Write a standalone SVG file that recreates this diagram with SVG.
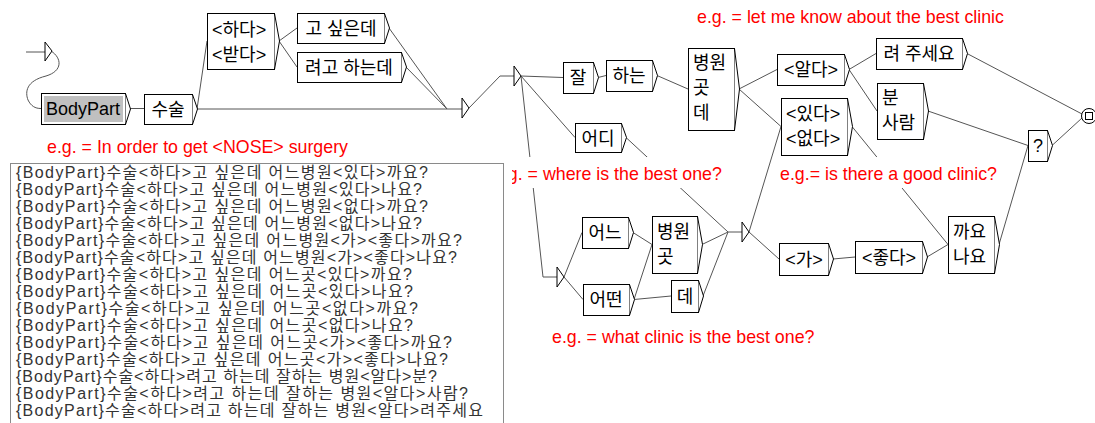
<svg xmlns="http://www.w3.org/2000/svg" width="1095" height="423" viewBox="0 0 1095 423">
<style>
.b{fill:#fff;stroke:#000;stroke-width:1}
.tri{fill:#fff;stroke:#000;stroke-width:1}
.t{font-family:"Liberation Sans","Noto Sans CJK KR",sans-serif;font-size:18px;fill:#000}
.m{text-anchor:middle}
.c{stroke:#555;fill:none;stroke-width:1}
.lbl{font-family:"Liberation Sans",Arial,sans-serif;font-size:17.8px;fill:#f00}
.bg{fill:#fff}
.tx{font-family:"Liberation Sans","Noto Sans CJK KR",sans-serif;font-size:16px;fill:#333}
</style>
<rect width="1095" height="423" fill="#fff"/>
<g id="connectors">
<path class="c" d="M26,52H45"/>
<path class="c" d="M51,51C62,58 63,71 46,76C26,81 25,92 28,100C31,106 35,108.5 41,108.5"/>
<path class="c" d="M130,108.5H144"/>
<path class="c" d="M197,109H462"/>
<path class="c" d="M197,109L207,41"/>
<path class="c" d="M279,41L297,28"/>
<path class="c" d="M279,41L297,67"/>
<path class="c" d="M389,28L447,109"/>
<path class="c" d="M406,67L447,109"/>
<path class="c" d="M469,108L500,76H514"/>
<path class="c" d="M521,76L563,77.5"/>
<path class="c" d="M598,77.5L606,75.5"/>
<path class="c" d="M657,75.5L688,89"/>
<path class="c" d="M521,76L575,137.5"/>
<path class="c" d="M521,76L543,277H557"/>
<path class="c" d="M564,277L582,232.5"/>
<path class="c" d="M564,277L583,299.5"/>
<path class="c" d="M633,232.5L652,244.5"/>
<path class="c" d="M634,299.5L652,244.5"/>
<path class="c" d="M634,299.5L671,296"/>
<path class="c" d="M702,244.5L728,232H742"/>
<path class="c" d="M703,296L728,232"/>
<path class="c" d="M626,137.5L728,232"/>
<path class="c" d="M749,232L779,259"/>
<path class="c" d="M749,232L781,126.5"/>
<path class="c" d="M739,89L777,69.5"/>
<path class="c" d="M739,89L781,126.5"/>
<path class="c" d="M849,69.5L876,53.5"/>
<path class="c" d="M849,69.5L877,111"/>
<path class="c" d="M967,53.5L1082,114"/>
<path class="c" d="M928,111L1028,145.5"/>
<path class="c" d="M1052,145.5L1082,118"/>
<path class="c" d="M852,126.5L948,244.5"/>
<path class="c" d="M833,259L855,257"/>
<path class="c" d="M927,257L948,244.5"/>
<path class="c" d="M999,244.5L1028,145.5"/>
</g>
<g id="init"><polygon class="tri" points="45,42 52,51 45,61"/></g>
<g id="n-bodypart"><rect class="b" x="41.5" y="93.5" width="84" height="31"/><rect x="44" y="96" width="79" height="26" fill="#c0c0c0"/><polyline class="b" points="125.5,93.5 130.5,109 125.5,124.5"/><text class="t m" x="83" y="115">BodyPart</text></g>
<g id="n-susul"><rect class="b" x="144.5" y="94.5" width="48" height="30"/><polyline class="b" points="192.5,94.5 197.5,109 192.5,124.5"/><text class="t m" x="168" y="116">수술</text></g>
<g id="n-hada"><rect class="b" x="207.5" y="13.5" width="67" height="56"/><polyline class="b" points="274.5,13.5 279.5,41 274.5,69.5"/><text class="t" x="212" y="36">&lt;하다&gt;</text><text class="t" x="212" y="61">&lt;받다&gt;</text></g>
<g id="n-go"><rect class="b" x="297.5" y="13.5" width="87" height="30"/><polyline class="b" points="384.5,13.5 389.5,28 384.5,43.5"/><text class="t m" x="341" y="35">고 싶은데</text></g>
<g id="n-ryeogo"><rect class="b" x="297.5" y="52.5" width="104" height="30"/><polyline class="b" points="401.5,52.5 406.5,67 401.5,82.5"/><text class="t m" x="349" y="74">려고 하는데</text></g>
<g id="e1"><polygon class="tri" points="462,98 469,108 462,118"/></g>
<g id="e2"><polygon class="tri" points="514,66 521,76 514,86"/></g>
<g id="n-jal"><rect class="b" x="563.5" y="62.5" width="30" height="31"/><polyline class="b" points="593.5,62.5 598.5,77.5 593.5,93.5"/><text class="t m" x="578" y="84">잘</text></g>
<g id="n-haneun"><rect class="b" x="606.5" y="60.5" width="46" height="31"/><polyline class="b" points="652.5,60.5 657.5,75.5 652.5,91.5"/><text class="t m" x="629" y="82">하는</text></g>
<g id="n-byeongwon1"><rect class="b" x="688.5" y="48.5" width="46" height="82"/><polyline class="b" points="734.5,48.5 739.5,89 734.5,130.5"/><text class="t" x="693" y="69">병원</text><text class="t" x="693" y="94">곳</text><text class="t" x="693" y="119">데</text></g>
<g id="n-eodi"><rect class="b" x="575.5" y="123.5" width="46" height="29"/><polyline class="b" points="621.5,123.5 626.5,137.5 621.5,152.5"/><text class="t m" x="598" y="145">어디</text></g>
<g id="n-alda"><rect class="b" x="777.5" y="54.5" width="67" height="31"/><polyline class="b" points="844.5,54.5 849.5,69.5 844.5,85.5"/><text class="t m" x="811" y="76">&lt;알다&gt;</text></g>
<g id="n-juseyo"><rect class="b" x="876.5" y="38.5" width="86" height="31"/><polyline class="b" points="962.5,38.5 967.5,53.5 962.5,69.5"/><text class="t m" x="919" y="60">려 주세요</text></g>
<g id="n-bun"><rect class="b" x="877.5" y="83.5" width="46" height="56"/><polyline class="b" points="923.5,83.5 928.5,111 923.5,139.5"/><text class="t" x="882" y="104">분</text><text class="t" x="882" y="129">사람</text></g>
<g id="n-itda"><rect class="b" x="781.5" y="98.5" width="66" height="57"/><polyline class="b" points="847.5,98.5 852.5,126.5 847.5,155.5"/><text class="t" x="786" y="120">&lt;있다&gt;</text><text class="t" x="786" y="145">&lt;없다&gt;</text></g>
<g id="n-q"><rect class="b" x="1028.5" y="130.5" width="19" height="31"/><polyline class="b" points="1047.5,130.5 1052.5,145.5 1047.5,161.5"/><text class="t m" x="1038" y="152">?</text></g>
<g id="n-ga"><rect class="b" x="779.5" y="243.5" width="49" height="32"/><polyline class="b" points="828.5,243.5 833.5,259 828.5,275.5"/><text class="t m" x="804" y="266">&lt;가&gt;</text></g>
<g id="n-jota"><rect class="b" x="855.5" y="241.5" width="67" height="32"/><polyline class="b" points="922.5,241.5 927.5,257 922.5,273.5"/><text class="t m" x="889" y="264">&lt;좋다&gt;</text></g>
<g id="n-kkayo"><rect class="b" x="948.5" y="216.5" width="46" height="57"/><polyline class="b" points="994.5,216.5 999.5,244.5 994.5,273.5"/><text class="t" x="953" y="238">까요</text><text class="t" x="953" y="263">나요</text></g>
<g id="e3"><polygon class="tri" points="557,267 564,277 557,287"/></g>
<g id="n-eoneu"><rect class="b" x="582.5" y="217.5" width="46" height="31"/><polyline class="b" points="628.5,217.5 633.5,232.5 628.5,248.5"/><text class="t m" x="605" y="239">어느</text></g>
<g id="n-eotteon"><rect class="b" x="583.5" y="284.5" width="46" height="31"/><polyline class="b" points="629.5,284.5 634.5,299.5 629.5,315.5"/><text class="t m" x="606" y="306">어떤</text></g>
<g id="n-byeongwon2"><rect class="b" x="652.5" y="216.5" width="45" height="57"/><polyline class="b" points="697.5,216.5 702.5,244.5 697.5,273.5"/><text class="t" x="657" y="238">병원</text><text class="t" x="657" y="263">곳</text></g>
<g id="n-de"><rect class="b" x="671.5" y="280.5" width="27" height="32"/><polyline class="b" points="698.5,280.5 703.5,296 698.5,312.5"/><text class="t m" x="685" y="303">데</text></g>
<g id="e4"><polygon class="tri" points="742,222 749,232 742,242"/></g>
<g id="final"><circle cx="1089" cy="116" r="7.5" fill="#fff" stroke="#000"/><rect x="1085.5" y="112.5" width="7" height="7" fill="#fff" stroke="#000"/></g>
<g id="labels">
<rect class="bg" x="44" y="132" width="308" height="30"/><text class="lbl" x="47" y="153">e.g. = In order to get &lt;NOSE&gt; surgery</text>
<rect class="bg" x="694" y="2" width="314" height="30"/><text class="lbl" x="697" y="23">e.g. = let me know about the best clinic</text>
<rect class="bg" x="490" y="157" width="236" height="31"/><text class="lbl" x="493" y="180">e.g. = where is the best one?</text>
<rect class="bg" x="778" y="157" width="225" height="31"/><text class="lbl" x="780" y="180">e.g.= is there a good clinic?</text>
<rect class="bg" x="549" y="322" width="270" height="30"/><text class="lbl" x="552" y="343">e.g. = what clinic is the best one?</text>
</g>
<g id="sentences">
<rect x="504" y="157" width="8" height="31" fill="#fff"/>
<rect x="10.5" y="163.5" width="493" height="280" fill="#fff" stroke="#8a8a8a"/>
<text class="tx" x="16" y="178" textLength="412" lengthAdjust="spacing">{BodyPart}수술&lt;하다&gt;고 싶은데 어느병원&lt;있다&gt;까요?</text>
<text class="tx" x="16" y="195" textLength="406" lengthAdjust="spacing">{BodyPart}수술&lt;하다&gt;고 싶은데 어느병원&lt;있다&gt;나요?</text>
<text class="tx" x="16" y="212" textLength="412" lengthAdjust="spacing">{BodyPart}수술&lt;하다&gt;고 싶은데 어느병원&lt;없다&gt;까요?</text>
<text class="tx" x="16" y="229" textLength="406" lengthAdjust="spacing">{BodyPart}수술&lt;하다&gt;고 싶은데 어느병원&lt;없다&gt;나요?</text>
<text class="tx" x="16" y="246" textLength="446" lengthAdjust="spacing">{BodyPart}수술&lt;하다&gt;고 싶은데 어느병원&lt;가&gt;&lt;좋다&gt;까요?</text>
<text class="tx" x="16" y="263" textLength="441" lengthAdjust="spacing">{BodyPart}수술&lt;하다&gt;고 싶은데 어느병원&lt;가&gt;&lt;좋다&gt;나요?</text>
<text class="tx" x="16" y="280" textLength="396" lengthAdjust="spacing">{BodyPart}수술&lt;하다&gt;고 싶은데 어느곳&lt;있다&gt;까요?</text>
<text class="tx" x="16" y="297" textLength="397" lengthAdjust="spacing">{BodyPart}수술&lt;하다&gt;고 싶은데 어느곳&lt;있다&gt;나요?</text>
<text class="tx" x="16" y="314" textLength="402" lengthAdjust="spacing">{BodyPart}수술&lt;하다&gt;고 싶은데 어느곳&lt;없다&gt;까요?</text>
<text class="tx" x="16" y="331" textLength="397" lengthAdjust="spacing">{BodyPart}수술&lt;하다&gt;고 싶은데 어느곳&lt;없다&gt;나요?</text>
<text class="tx" x="16" y="348" textLength="436" lengthAdjust="spacing">{BodyPart}수술&lt;하다&gt;고 싶은데 어느곳&lt;가&gt;&lt;좋다&gt;까요?</text>
<text class="tx" x="16" y="365" textLength="432" lengthAdjust="spacing">{BodyPart}수술&lt;하다&gt;고 싶은데 어느곳&lt;가&gt;&lt;좋다&gt;나요?</text>
<text class="tx" x="16" y="382" textLength="421" lengthAdjust="spacing">{BodyPart}수술&lt;하다&gt;려고 하는데 잘하는 병원&lt;알다&gt;분?</text>
<text class="tx" x="16" y="399" textLength="452" lengthAdjust="spacing">{BodyPart}수술&lt;하다&gt;려고 하는데 잘하는 병원&lt;알다&gt;사람?</text>
<text class="tx" x="16" y="416" textLength="467" lengthAdjust="spacing">{BodyPart}수술&lt;하다&gt;려고 하는데 잘하는 병원&lt;알다&gt;려주세요</text>
</g>
</svg>
